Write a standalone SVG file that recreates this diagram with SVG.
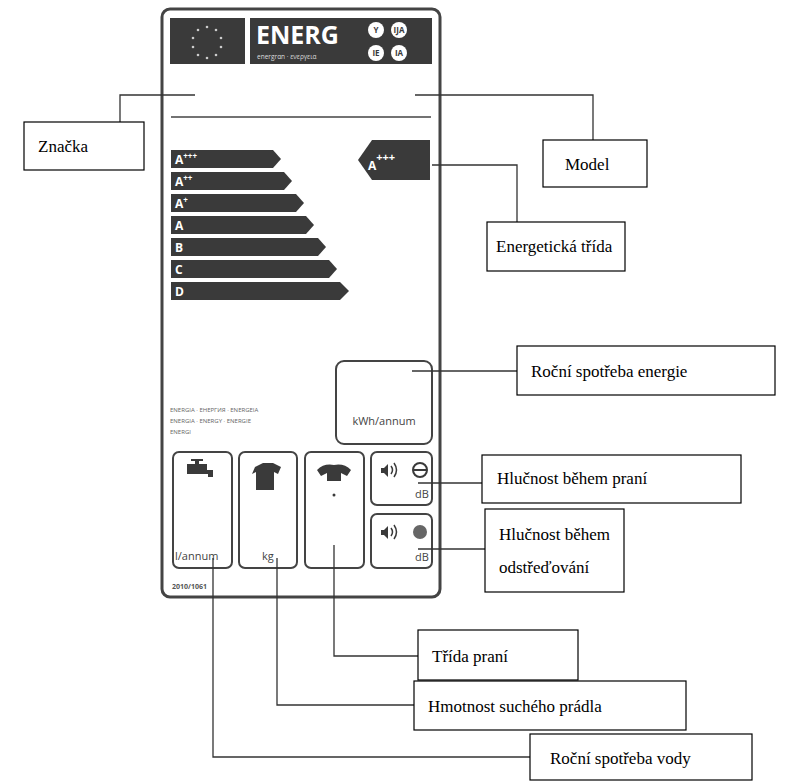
<svg xmlns="http://www.w3.org/2000/svg" width="787" height="782" viewBox="0 0 787 782">
<style>
.lb{fill:#fff;stroke:#000;stroke-width:1.2}
.lt{font-family:"Liberation Serif",serif;font-size:17px;fill:#000}
.ln{fill:none;stroke:#333;stroke-width:1.3}
.bar{fill:#3a3a3a}
.bt{font-family:"Open Sans",sans-serif;font-weight:bold;font-size:12px;fill:#fff}
.ib{fill:none;stroke:#444;stroke-width:2}
.it{font-family:"Open Sans",sans-serif;font-size:11px;fill:#444}
</style>
<rect width="787" height="782" fill="#fff"/>
<g id="label">
<rect x="162" y="9" width="278" height="588" rx="8" fill="#fff" stroke="#444" stroke-width="3"/>
<rect x="170" y="18" width="75" height="46" fill="#3a3a3a"/>
<g fill="#ccc"><circle cx="207" cy="27" r="1.3"/><circle cx="216" cy="30" r="1.3"/><circle cx="221" cy="38" r="1.3"/><circle cx="221" cy="47" r="1.3"/><circle cx="216" cy="55" r="1.3"/><circle cx="207" cy="58" r="1.3"/><circle cx="198" cy="55" r="1.3"/><circle cx="193" cy="47" r="1.3"/><circle cx="193" cy="38" r="1.3"/><circle cx="198" cy="30" r="1.3"/></g>
<rect x="250" y="18" width="182" height="46" fill="#3a3a3a"/>
<text x="256" y="44" font-family="Open Sans,sans-serif" font-weight="bold" font-size="25" fill="#fff">ENERG</text>
<text x="257" y="59" font-family="Open Sans,sans-serif" font-size="6.5" fill="#ddd">energrαn · ενεργεια</text>
<g fill="#fff"><circle cx="376" cy="30" r="8"/><circle cx="399" cy="30" r="8"/><circle cx="376" cy="53" r="8"/><circle cx="399" cy="53" r="8"/></g>
<g font-family="Open Sans,sans-serif" font-weight="bold" font-size="8" fill="#3a3a3a" text-anchor="middle"><text x="376" y="33">Y</text><text x="399" y="33">IJA</text><text x="376" y="56">IE</text><text x="399" y="56">IA</text></g>
<line x1="171" y1="117" x2="431" y2="117" stroke="#444" stroke-width="1.5"/>
<polygon class="bar" points="171,150 273,150 281,159 273,168 171,168"/>
<polygon class="bar" points="171,172 284,172 292,181 284,190 171,190"/>
<polygon class="bar" points="171,194 296,194 304,203 296,212 171,212"/>
<polygon class="bar" points="171,216 306,216 314,225 306,234 171,234"/>
<polygon class="bar" points="171,238 318,238 326,247 318,256 171,256"/>
<polygon class="bar" points="171,260 329,260 337,269 329,278 171,278"/>
<polygon class="bar" points="171,282 340,282 349,291 340,300 171,300"/>
<text class="bt" x="175" y="164">A<tspan font-size="8" dy="-5">+++</tspan></text>
<text class="bt" x="175" y="186">A<tspan font-size="8" dy="-5">++</tspan></text>
<text class="bt" x="175" y="208">A<tspan font-size="8" dy="-5">+</tspan></text>
<text class="bt" x="175" y="230">A</text>
<text class="bt" x="175" y="252">B</text>
<text class="bt" x="175" y="274">C</text>
<text class="bt" x="175" y="296">D</text>
<polygon class="bar" points="358,160 372,140 430,140 430,180 372,180"/>
<text class="bt" x="368" y="170" font-size="22">A<tspan font-size="11" dy="-9">+++</tspan></text>
<rect class="ib" x="336" y="361" width="96" height="83" rx="8"/>
<text class="it" x="384" y="425" text-anchor="middle">kWh/annum</text>
<g font-family="Open Sans,sans-serif" font-size="6" fill="#666"><text x="170" y="412">ENERGIA · ЕНЕРГИЯ · ENERGEIA</text><text x="170" y="423">ENERGIA · ENERGY · ENERGIE</text><text x="170" y="434">ENERGI</text></g>
<rect class="ib" x="173" y="452" width="59" height="116" rx="6"/>
<rect class="ib" x="239" y="452" width="58" height="116" rx="6"/>
<rect class="ib" x="305" y="452" width="59" height="116" rx="6"/>
<rect class="ib" x="371" y="452" width="61" height="53" rx="6"/>
<rect class="ib" x="371" y="514" width="61" height="54" rx="6"/>
<g fill="#3a3a3a">
<path d="M187 464h8v-3h-4v-2h12v2h-4v3h8v6h6v7h-5v-3h-21z"/>
<path d="M255 467l8-4h10l8 4-3 7-4-2v18h-18v-18l-4 2z"/>
<path d="M317 470q7-7 17-5 10-2 17 5l-4 6-6-3v8h-14v-8l-6 3z"/>
<circle cx="334" cy="495" r="1.5"/>
<path d="M381 468h3l4-4v13l-4-4h-3z"/>
<path d="M381 530h3l4-4v13l-4-4h-3z"/>
<circle cx="420" cy="532" r="7" fill="#666"/>
</g>
<g fill="none" stroke="#3a3a3a" stroke-width="1.5"><path d="M391 466q3 4 0 8M394 463q5 7 0 14M391 528q3 4 0 8M394 525q5 7 0 14"/></g>
<circle cx="420" cy="470" r="7" fill="none" stroke="#3a3a3a" stroke-width="2"/>
<line x1="413" y1="470" x2="427" y2="470" stroke="#3a3a3a" stroke-width="2"/>
<text class="it" x="415" y="498">dB</text>
<text class="it" x="415" y="561">dB</text>
<text class="it" x="175" y="560" font-size="10.5">l/annum</text>
<text class="it" x="262" y="560">kg</text>
<text x="172" y="589" font-family="Open Sans,sans-serif" font-weight="bold" font-size="7" fill="#555">2010/1061</text>
</g>
<g id="connectors" class="ln">
<polyline points="195,95 120,95 120,122"/>
<polyline points="415,95 593,95 593,140"/>
<polyline points="432,165 517,165 517,222"/>
<line x1="412" y1="371" x2="517" y2="371"/>
<line x1="418" y1="483" x2="482" y2="483"/>
<line x1="418" y1="549" x2="485" y2="549"/>
<polyline points="334,545 334,656 418,656"/>
<polyline points="277,558 277,705 414,705"/>
<polyline points="213,558 213,757 530,757"/>
</g>
<g id="n-znacka"><rect class="lb" x="24" y="122" width="120" height="48"/><text class="lt" x="38" y="152">Značka</text></g>
<g id="n-model"><rect class="lb" x="543" y="140" width="104" height="47"/><text class="lt" x="565" y="170">Model</text></g>
<g id="n-trida"><rect class="lb" x="487" y="222" width="138" height="49"/><text class="lt" x="496" y="252">Energetická třída</text></g>
<g id="n-energie"><rect class="lb" x="517" y="346" width="258" height="49"/><text class="lt" x="531" y="377">Roční spotřeba energie</text></g>
<g id="n-hlucnost1"><rect class="lb" x="482" y="455" width="259" height="48"/><text class="lt" x="497" y="484">Hlučnost během praní</text></g>
<g id="n-hlucnost2"><rect class="lb" x="485" y="509" width="139" height="83"/><text class="lt" x="499" y="540">Hlučnost během</text><text class="lt" x="499" y="573">odstřeďování</text></g>
<g id="n-prani"><rect class="lb" x="418" y="630" width="160" height="50"/><text class="lt" x="432" y="662">Třída praní</text></g>
<g id="n-hmotnost"><rect class="lb" x="414" y="681" width="272" height="49"/><text class="lt" x="428" y="712">Hmotnost suchého prádla</text></g>
<g id="n-voda"><rect class="lb" x="530" y="734" width="222" height="46"/><text class="lt" x="550" y="764">Roční spotřeba vody</text></g>
</svg>
